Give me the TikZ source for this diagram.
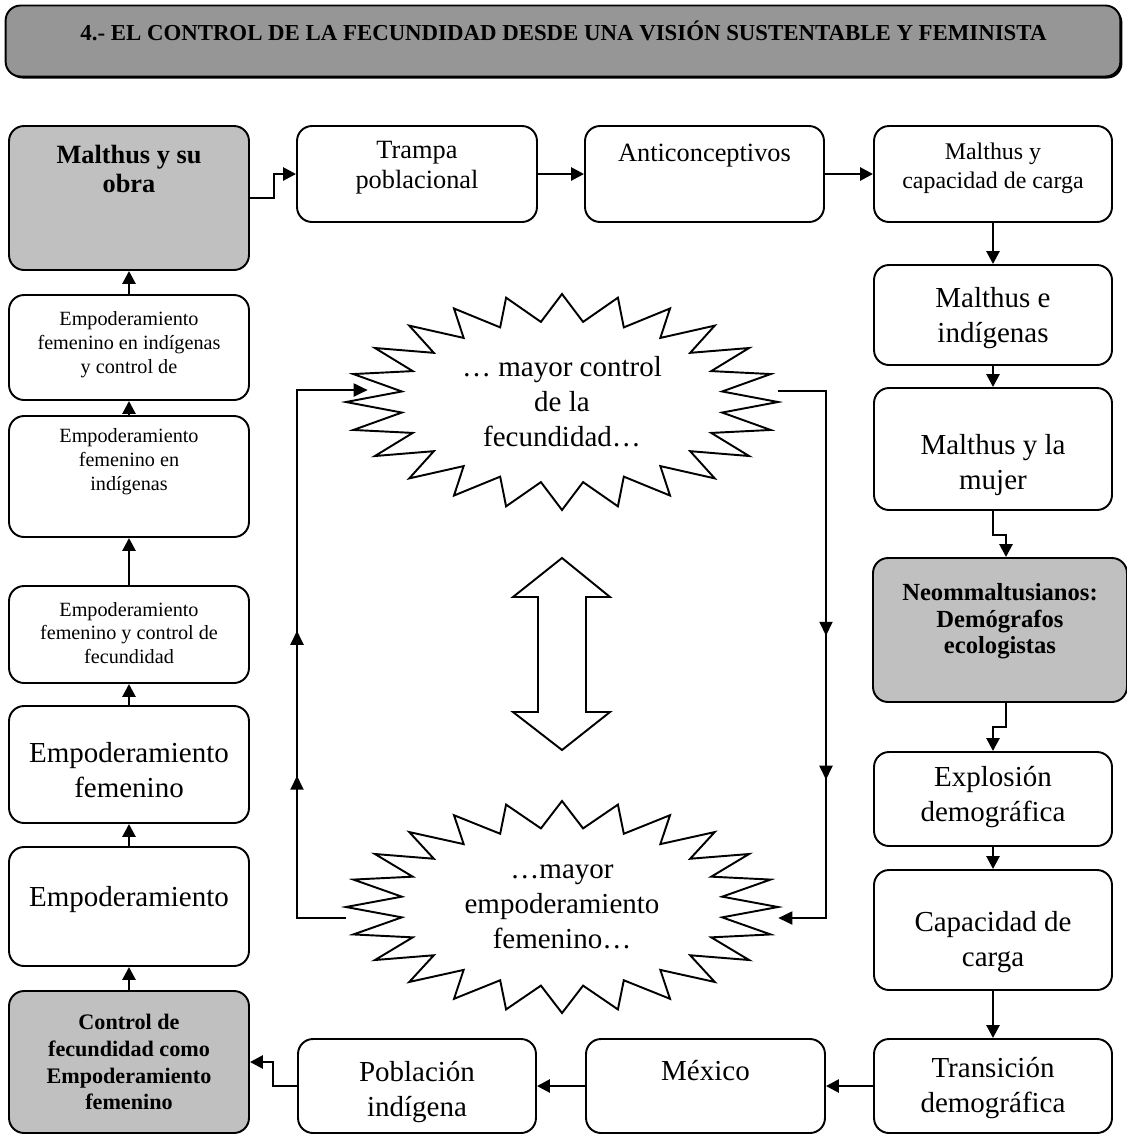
\documentclass[tikz,border=0pt]{standalone}
\usepackage{fontspec}
\setmainfont{Liberation Serif}
\usepackage{xcolor}
\definecolor{boxGray}{HTML}{C0C0C0}
\definecolor{titleGray}{HTML}{969696}
\usetikzlibrary{arrows.meta,positioning,decorations.markings,shapes.geometric,shadows}

\tikzset{
  blk/.style={draw, line width=1.1pt, rounded corners=0.3cm, fill=white, inner sep=0pt},
  blkGray/.style={blk, fill=boxGray},
  txtBig/.style={align=center, inner sep=0pt, font=\fontsize{16.5}{19.9}\selectfont},
  txtMid/.style={align=center, inner sep=0pt, font=\fontsize{15}{17}\selectfont},
  txtCap/.style={align=center, inner sep=0pt, font=\fontsize{13.6}{16.3}\selectfont},
  txtSmall/.style={align=center, inner sep=0pt, font=\fontsize{11.5}{13.6}\selectfont},
  txtBold/.style={align=center, inner sep=0pt, font=\bfseries\fontsize{12.3}{15}\selectfont},
  conn/.style={line width=1.5pt, -{Triangle[length=0.26cm,width=0.26cm]}},
  loopln/.style={line width=1.1pt, -{Triangle[length=0.28cm,width=0.26cm]}},
  burstln/.style={line width=1.1pt, line join=miter},
  burst/.style={ellipse, minimum width=8.64cm, minimum height=4.32cm, inner sep=0pt, align=center,
    font=\fontsize{16.5}{19.9}\selectfont}
}

\begin{document}
\begin{tikzpicture}[x=0.02cm, y=-0.02cm]
  \useasboundingbox (0,0) rectangle (1127,1134);

  % title
  \node[blk, fill=titleGray, minimum width=22.3cm, minimum height=1.42cm,
    drop shadow={shadow xshift=0.04cm, shadow yshift=-0.04cm, fill=black, opacity=1}] (title) at (563,41) {};
  \node[txtBold, font=\bfseries\fontsize{13}{15.6}\selectfont] (title-t) at (563.5,31)
    {4.- EL CONTROL DE LA FECUNDIDAD DESDE UNA VISIÓN SUSTENTABLE Y FEMINISTA};

  % top row
  \node[blkGray, minimum width=4.8cm, minimum height=2.88cm] (mobra) at (129,198) {};
  \node[txtBold, font=\bfseries\fontsize{15}{16}\selectfont] (mobra-t) at (129,169) {Malthus y su\\obra};
  \node[blk, minimum width=4.8cm, minimum height=1.92cm] (trampa) at (417,174) {};
  \node[txtMid] (trampa-t) at (417,168) {Trampa\\poblacional};
  \node[blk, minimum width=4.78cm, minimum height=1.92cm] (anti) at (704.5,174) {};
  \node[txtMid] (anti-t) at (704.5,156) {Anticonceptivos};
  \node[blk, minimum width=4.76cm, minimum height=1.92cm] (mcap) at (993,174) {};
  \node[txtCap] (mcap-t) at (993,168) {Malthus y\\capacidad de carga};

  % right column
  \node[blk, minimum width=4.76cm, minimum height=2.0cm] (mind) at (993,315) {};
  \node[txtBig] (mind-t) at (993,318) {Malthus e\\indígenas};
  \node[blk, minimum width=4.76cm, minimum height=2.44cm] (mmuj) at (993,449) {};
  \node[txtBig] (mmuj-t) at (993,465) {Malthus y la\\mujer};
  \node[blkGray, minimum width=5.08cm, minimum height=2.88cm] (neo) at (1000,630) {};
  \node[txtBold, font=\bfseries\fontsize{14}{15}\selectfont] (neo-t) at (1000,621.5) {Neommaltusianos:\\Demógrafos\\ecologistas};
  \node[blk, minimum width=4.76cm, minimum height=1.88cm] (expl) at (993,799) {};
  \node[txtBig] (expl-t) at (993,797.5) {Explosión\\demográfica};
  \node[blk, minimum width=4.76cm, minimum height=2.4cm] (capc) at (993,930) {};
  \node[txtBig] (capc-t) at (993,942.5) {Capacidad de\\carga};
  \node[blk, minimum width=4.76cm, minimum height=1.88cm] (trans) at (993,1086) {};
  \node[txtBig] (trans-t) at (993,1088) {Transición\\demográfica};

  % bottom row
  \node[blk, minimum width=4.78cm, minimum height=1.88cm] (mex) at (705.5,1086) {};
  \node[txtBig] (mex-t) at (705.5,1071) {México};
  \node[blk, minimum width=4.76cm, minimum height=1.88cm] (pob) at (417,1086) {};
  \node[txtBig] (pob-t) at (417,1092) {Población\\indígena};

  % left column
  \node[blkGray, minimum width=4.8cm, minimum height=2.84cm] (cfe) at (129,1062) {};
  \node[txtBold, font=\bfseries\fontsize{12.6}{15.3}\selectfont] (cfe-t) at (129,1062) {Control de\\fecundidad como\\Empoderamiento\\femenino};
  \node[blk, minimum width=4.8cm, minimum height=2.38cm] (emp) at (129,906.5) {};
  \node[txtBig] (emp-t) at (129,900) {Empoderamiento};
  \node[blk, minimum width=4.8cm, minimum height=2.34cm] (ef) at (129,764.5) {};
  \node[txtBig] (ef-t) at (129,770) {Empoderamiento\\femenino};
  \node[blk, minimum width=4.8cm, minimum height=1.94cm] (efc) at (129,634.5) {};
  \node[txtSmall] (efc-t) at (129,633) {Empoderamiento\\femenino y control de\\fecundidad};
  \node[blk, minimum width=4.8cm, minimum height=2.42cm] (efi) at (129,476.5) {};
  \node[txtSmall] (efi-t) at (129,462) {Empoderamiento\\femenino en\\indígenas};
  \node[blk, minimum width=4.8cm, minimum height=2.1cm] (efic) at (129,347.5) {};
  \node[txtSmall] (efic-t) at (129,345) {Empoderamiento\\femenino en indígenas\\y control de};

  % chain
  \draw[conn] (mobra.east) -- ++(24,0) |- (trampa.west);
  \draw[conn] (trampa.east) -- (anti.west);
  \draw[conn] (anti.east) -- (mcap.west);
  \draw[conn] (mcap.south) -- (mind.north);
  \draw[conn] (mind.south) -- (mmuj.north);
  \draw[conn] (mmuj.south) -- ++(0,24) -| ([xshift=0.12cm]neo.north);
  \draw[conn] ([xshift=0.12cm]neo.south) -- ++(0,24) -| (expl.north);
  \draw[conn] (expl.south) -- (capc.north);
  \draw[conn] (capc.south) -- (trans.north);
  \draw[conn] (trans.west) -- (mex.east);
  \draw[conn] (mex.west) -- (pob.east);
  \draw[conn] (pob.west) -- ++(-24,0) |- (cfe.east);
  \draw[conn] (cfe.north) -- (emp.south);
  \draw[conn] (emp.north) -- (ef.south);
  \draw[conn] (ef.north) -- (efc.south);
  \draw[conn] (efc.north) -- (efi.south);
  \draw[conn] (efi.north) -- (efic.south);
  \draw[conn] (efic.north) -- (mobra.south);

  % centre: the two bursts
  \node[burst] (burstA) at (562,402) {… mayor control\\de la\\fecundidad…};
  \node[burst] (burstB) at (562,907) {…mayor\\empoderamiento\\femenino…};
  \begin{scope}[shift={(burstA.center)}]
    \draw[burstln] (0:216 and 108) \foreach \k in {1,...,47}{
      -- ({\k*7.5}:{216*(1-0.252*mod(\k,2))} and {108*(1-0.252*mod(\k,2))}) } -- cycle;
  \end{scope}
  \begin{scope}[shift={(burstB.center)}]
    \draw[burstln] (0:216 and 106) \foreach \k in {1,...,47}{
      -- ({\k*7.5}:{216*(1-0.252*mod(\k,2))} and {106*(1-0.252*mod(\k,2))}) } -- cycle;
  \end{scope}

  % double arrow between them
  \draw[burstln] (562,558) -- (610,597) -- (586,597) -- (586,712) -- (610,712) -- (562,750)
    -- (513,712) -- (538,712) -- (538,597) -- (513,597) -- cycle;

  % loop
  \coordinate (loopL) at (297,650);
  \coordinate (loopR) at (826,650);
  \draw[loopln, postaction={decorate}, decoration={markings,
      mark=at position 3.82cm with {\arrow{Triangle[length=0.28cm,width=0.26cm]}},
      mark=at position 6.72cm with {\arrow{Triangle[length=0.28cm,width=0.26cm]}}}]
    ([yshift=-0.22cm]burstB.west) -| (loopL) |- ([xshift=0.44cm,yshift=0.24cm]burstA.west);
  \draw[loopln, postaction={decorate}, decoration={markings,
      mark=at position 5.85cm with {\arrow{Triangle[length=0.28cm,width=0.26cm]}},
      mark=at position 8.73cm with {\arrow{Triangle[length=0.28cm,width=0.26cm]}}}]
    ([yshift=0.22cm]burstA.east) -| (loopR) |- ([yshift=-0.22cm]burstB.east);
\end{tikzpicture}
\end{document}
